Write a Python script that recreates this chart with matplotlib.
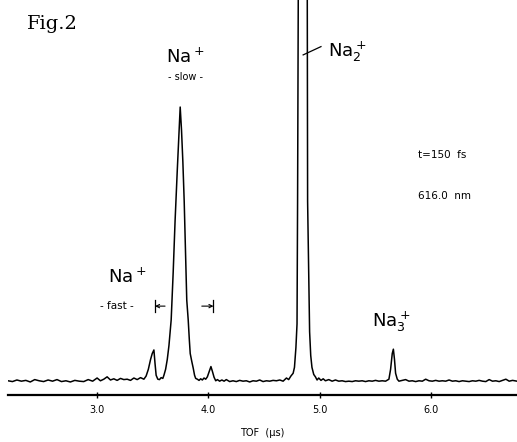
import numpy as np
import matplotlib
matplotlib.use("Agg")
import matplotlib.pyplot as plt

# TOF spectrum (time in microseconds, intensity in arb. units)
tof = [2.20, 2.24, 2.28, 2.32, 2.36, 2.40, 2.44, 2.48, 2.52, 2.56,
       2.60, 2.64, 2.68, 2.72, 2.76, 2.80, 2.84, 2.88, 2.92, 2.96,
       3.00, 3.03, 3.06, 3.09, 3.12, 3.15, 3.18, 3.21, 3.24, 3.27,
       3.30, 3.33, 3.36, 3.39, 3.42, 3.44, 3.46, 3.48, 3.495, 3.51,
       3.52, 3.53, 3.545, 3.56, 3.575, 3.59, 3.60, 3.615, 3.63, 3.645,
       3.665, 3.683, 3.70, 3.72, 3.735, 3.746, 3.758, 3.77, 3.782, 3.795,
       3.805, 3.818, 3.828, 3.836, 3.85, 3.863, 3.875, 3.885, 3.90, 3.915,
       3.93, 3.945, 3.96, 3.975, 3.99, 4.005, 4.022, 4.035, 4.05, 4.065,
       4.08, 4.10, 4.12, 4.14, 4.16, 4.19, 4.22, 4.25, 4.28, 4.31,
       4.34, 4.37, 4.40, 4.43, 4.46, 4.49, 4.52, 4.55, 4.58, 4.61,
       4.64, 4.67, 4.70, 4.72, 4.74, 4.76, 4.772, 4.785, 4.795, 4.800,
       4.806, 4.846, 4.887, 4.890, 4.908, 4.918, 4.929, 4.945, 4.96, 4.975,
       4.99, 5.01, 5.03, 5.05, 5.08, 5.11, 5.14, 5.17, 5.20, 5.23,
       5.26, 5.29, 5.32, 5.35, 5.38, 5.41, 5.44, 5.47, 5.50, 5.53,
       5.56, 5.59, 5.62, 5.635, 5.65, 5.66, 5.67, 5.68, 5.695, 5.71,
       5.74, 5.77, 5.80, 5.83, 5.86, 5.89, 5.92, 5.95, 5.98, 6.01,
       6.04, 6.07, 6.10, 6.13, 6.16, 6.19, 6.22, 6.25, 6.28, 6.31,
       6.34, 6.37, 6.40, 6.43, 6.46, 6.49, 6.52, 6.55, 6.58, 6.61,
       6.64, 6.67, 6.70, 6.73, 6.77]
signal = [3.6, 3.4, 3.8, 3.5, 3.7, 3.3, 3.9, 3.6, 3.4, 3.8,
          3.5, 3.9, 3.4, 3.6, 3.3, 3.7, 3.5, 3.4, 3.9, 3.5,
          4.3, 3.6, 4.0, 4.6, 3.8, 4.1, 3.7, 4.2, 3.9, 4.0,
          3.7, 4.3, 3.9, 4.4, 4.0, 4.8, 6.5, 9.0, 10.5, 11.4,
          8.0, 5.0, 4.0, 3.9, 4.4, 4.2, 5.0, 6.5, 9.0, 12.5,
          19.0, 31.0, 44.0, 57.0, 66.0, 72.9, 67.0, 59.0, 49.0, 35.0,
          24.0, 19.0, 14.0, 10.5, 8.5, 6.8, 5.0, 4.2, 4.0, 3.7,
          4.1, 3.8, 4.3, 4.0, 4.6, 5.8, 7.2, 6.0, 4.5, 3.6,
          3.9, 3.5, 3.8, 3.5, 3.9, 3.4, 3.6, 3.4, 3.7, 3.5,
          3.6, 3.3, 3.6, 3.5, 3.8, 3.4, 3.6, 3.5, 3.7, 3.6,
          3.8, 3.5, 4.3, 3.9, 4.8, 5.5, 7.0, 12.0, 18.0, 49.0,
          100.0, 400.0, 100.0, 49.0, 16.0, 10.0, 7.0, 5.2, 4.6, 3.8,
          4.3, 3.7, 4.1, 3.6, 3.9, 3.5, 3.8, 3.5, 3.6, 3.4,
          3.5, 3.4, 3.6, 3.5, 3.6, 3.4, 3.6, 3.5, 3.7, 3.5,
          3.6, 3.5, 4.0, 6.5, 10.5, 11.6, 9.0, 5.5, 4.0, 3.5,
          3.7, 3.9, 3.5, 3.6, 3.4, 3.6, 3.5, 4.0, 3.6, 3.5,
          3.7, 3.5, 3.6, 3.5, 3.8, 3.5, 3.6, 3.4, 3.6, 3.5,
          3.4, 3.6, 3.5, 3.7, 3.5, 3.4, 3.9, 3.5, 3.6, 3.4,
          3.7, 4.0, 3.5, 3.7, 3.5]

xticks = [3.0, 4.0, 5.0, 6.0]
xtick_labels = ["3.0", "4.0", "5.0", "6.0"]

fig = plt.figure(figsize=(5.17, 4.42), dpi=100)
ax = fig.add_axes([8/517, 47/442, 509/517, 395/442])

ax.plot(tof, signal, color="black", lw=1.1)
ax.set_xlim(2.2, 6.77)
ax.set_ylim(0, 100)

for s in ["left", "top", "right"]:
    ax.spines[s].set_visible(False)
ax.spines["bottom"].set_linewidth(1.6)
ax.set_yticks([])
ax.set_xticks(xticks)
ax.set_xticklabels(xtick_labels, fontsize=7)
ax.tick_params(axis="x", direction="inout", length=5, width=1, pad=5)
ax.set_xlabel("TOF  (μs)", fontsize=7, labelpad=9)

# labels
fig.text(27/517, 0.946, "Fig.2", family="DejaVu Serif", fontsize=14, va="center")
ax.text(3.79, 85.5, "Na$^+$", fontsize=13, ha="center", va="center")
ax.text(3.79, 80.5, "- slow -", fontsize=7, ha="center", va="center")
ax.text(5.075, 86.8, "Na$_2^+$", fontsize=13, ha="left", va="center")
ax.plot([4.85, 5.01], [86.1, 88.2], color="black", lw=0.9)
ax.text(5.884, 60.8, "t=150  fs", fontsize=7.5, ha="left", va="center")
ax.text(5.884, 50.4, "616.0  nm", fontsize=7.5, ha="left", va="center")
ax.text(3.27, 29.9, "Na$^+$", fontsize=13, ha="center", va="center")
ax.text(3.18, 22.5, "- fast -", fontsize=7.5, ha="center", va="center")
ax.text(5.471, 18.5, "Na$_3^+$", fontsize=13, ha="left", va="center")

# range markers of the fast Na+ ions
for x0, x1 in [(3.52, 3.61), (4.045, 3.94)]:
    ax.annotate("", xy=(x0, 22.5), xytext=(x1, 22.5),
                arrowprops=dict(arrowstyle="->", lw=0.8, color="black",
                                shrinkA=0, shrinkB=0, mutation_scale=6))
    ax.plot([x0, x0], [21.0, 24.0], color="black", lw=0.9)

fig.savefig("out.png", dpi=100)
